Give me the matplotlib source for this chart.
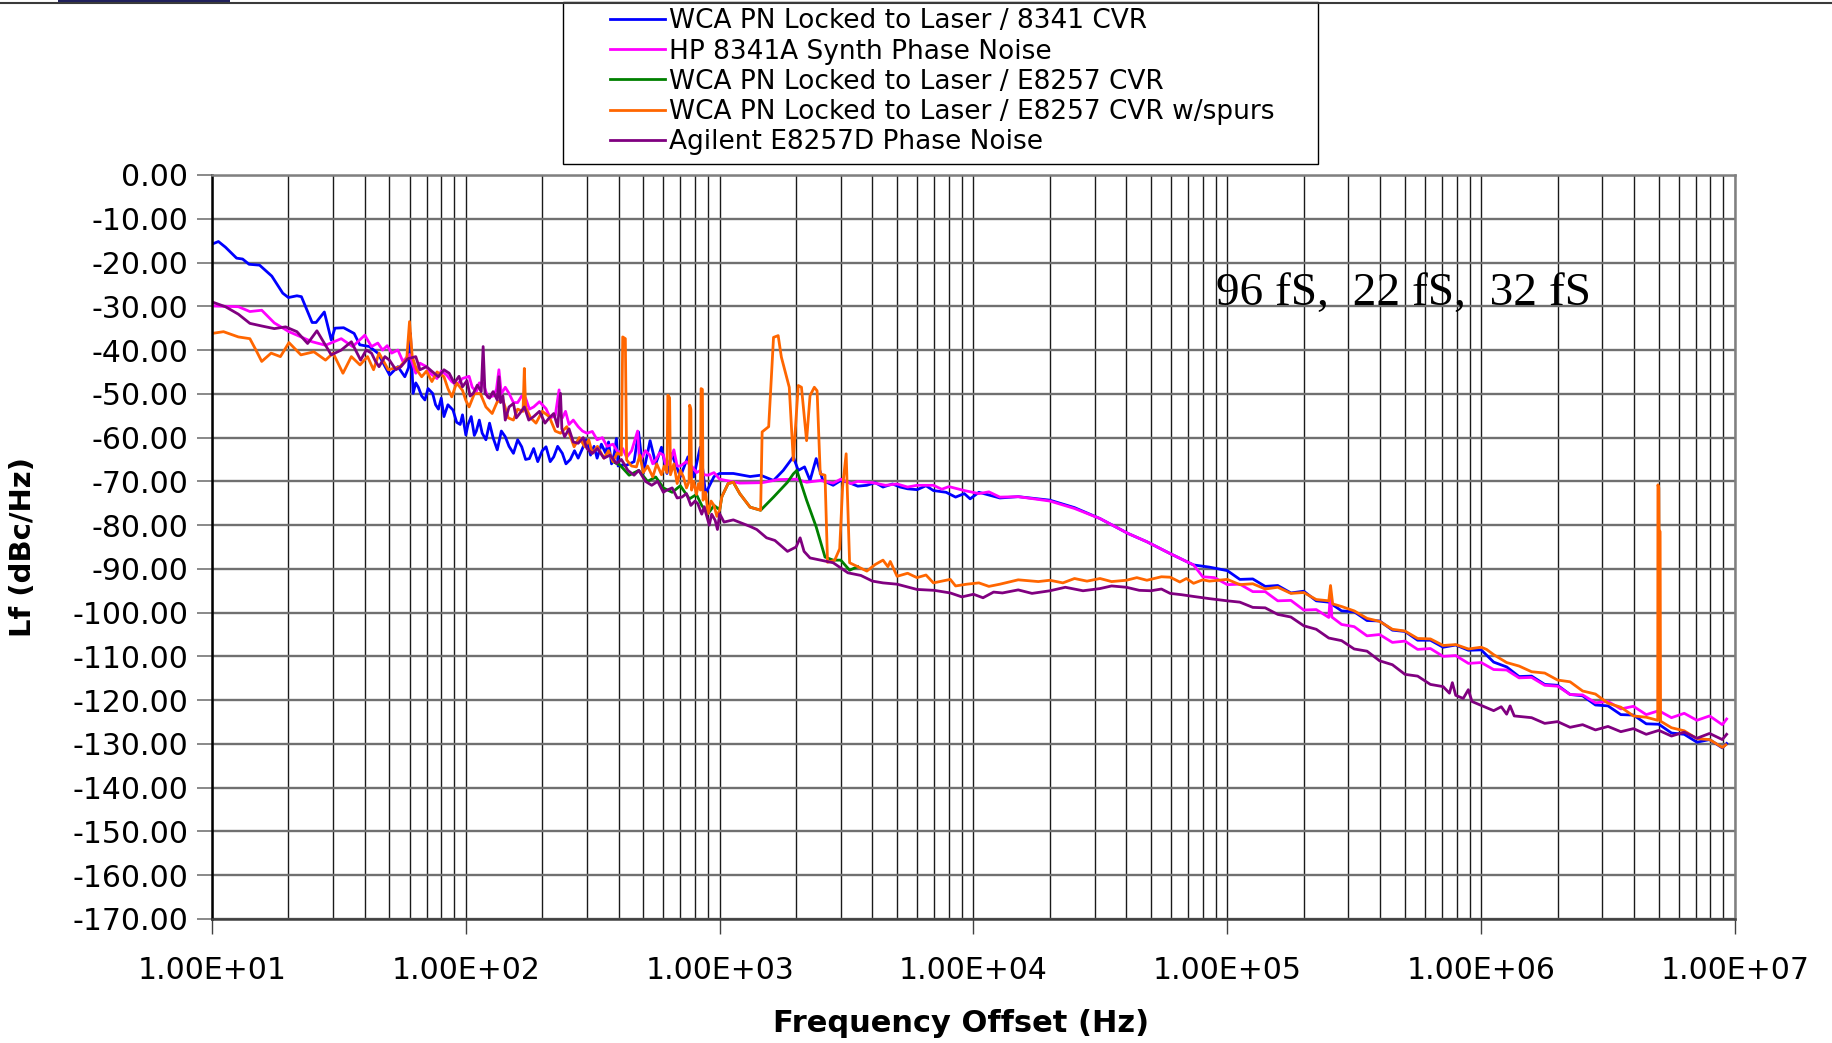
import numpy as np
import matplotlib
matplotlib.use("Agg")
import matplotlib.pyplot as plt
from matplotlib.ticker import FixedLocator, FuncFormatter, LogLocator, NullFormatter
from matplotlib.patches import Rectangle
from matplotlib.lines import Line2D

# ---- data (offset Hz, dBc/Hz) ----
wca_8341 = [
    (10, -15.8), (10.6, -15.2), (11.3, -16.5), (12.5, -19.0), (13.2, -19.2), (14.0, -20.4),
    (15.4, -20.6), (17.2, -23.1), (19.0, -27.0), (20.0, -28.0), (21.6, -27.6), (22.5, -27.8),
    (24.8, -33.7), (25.7, -33.7), (27.7, -31.3), (29.5, -37.7), (30.5, -35.0), (33, -34.9),
    (36.3, -36.2), (38.2, -38.8), (41.7, -39.2), (45, -40.7), (50.1, -45.7), (54, -43.8),
    (57.5, -46.1), (59.5, -44.0), (60.5, -36.2), (62, -49.9), (63.5, -47.5), (65, -48.5),
    (67, -50.5), (69, -51.4), (71, -48.8), (74, -49.9), (76, -52.5), (78, -53.5), (80, -51.0),
    (82, -55.2), (85, -52.5), (89, -53.7), (92, -56.5), (95, -57.0), (97, -54.8), (100, -59.4),
    (102, -57.0), (105, -55.2), (108, -59.5), (110, -58.5), (113, -56.0), (116, -59.0),
    (120, -60.5), (124, -56.7), (128, -60.0), (133, -62.8), (138, -58.5), (143, -59.8),
    (148, -62.0), (154, -63.6), (160, -60.5), (166, -62.1), (172, -65.0), (178, -64.8),
    (185, -62.5), (192, -65.5), (200, -63.0), (207, -62.1), (215, -65.5), (222, -64.4),
    (230, -62.0), (240, -63.6), (248, -66.0), (258, -65.0), (268, -63.0), (277, -64.7),
    (288, -62.5), (298, -60.5), (310, -64.0), (320, -62.0), (329, -64.7), (342, -61.5),
    (355, -63.5), (365, -61.0), (375, -66.0), (385, -63.5), (392, -60.2), (398, -66.5),
    (405, -66.3), (430, -66.3), (460, -65.5), (479, -58.7), (500, -68.2), (532, -60.7),
    (560, -66.0), (590, -62.2), (620, -68.2), (647, -63.7), (700, -68.9), (750, -64.4),
    (790, -69.0), (838, -62.2), (880, -72.8), (950, -68.9), (1000, -68.2), (1132, -68.2),
    (1318, -68.9), (1450, -68.6), (1630, -69.8), (1780, -67.5), (1950, -64.4), (2040, -67.5),
    (2160, -66.7), (2270, -69.8), (2400, -64.8), (2550, -69.8), (2800, -70.9), (3000, -69.8),
    (3200, -70.2), (3500, -71.1), (3800, -70.9), (4100, -70.3), (4400, -71.3), (4800, -70.6),
    (5140, -71.3), (5500, -71.7), (6000, -71.9), (6500, -71.0), (6950, -72.1), (7800, -72.5),
    (8500, -73.6), (9200, -72.8), (9700, -74.0), (10500, -72.5), (12700, -73.8),
    (15000, -73.5), (20000, -74.3), (25000, -76.0), (31500, -78.5), (40600, -81.9),
    (48200, -83.8), (59500, -86.5), (73600, -89.1), (85000, -89.6), (100000, -90.4),
    (112000, -92.4), (126000, -92.3), (141000, -94.0), (158000, -93.8), (178000, -95.5),
    (200000, -95.1), (224000, -97.3), (251000, -97.6), (282000, -99.6), (316000, -99.8),
    (355000, -101.8), (398000, -101.9), (447000, -104.0), (501000, -104.3), (562000, -106.3),
    (631000, -106.3), (708000, -107.9), (794000, -107.4), (891000, -108.6), (1000000, -108.5),
    (1120000, -111.3), (1260000, -112.4), (1410000, -114.6), (1580000, -114.5),
    (1780000, -116.4), (2000000, -116.6), (2240000, -118.7), (2510000, -119.0),
    (2820000, -121.1), (3160000, -121.3), (3550000, -123.3), (3980000, -123.4),
    (4470000, -125.4), (5010000, -125.5), (5620000, -127.5), (6310000, -127.8),
    (7080000, -129.6), (7940000, -129.0), (8910000, -130.9), (9270000, -129.9),
]

hp8341 = [
    (10, -29.9), (12.7, -30.1), (14.1, -31.2), (15.7, -30.9), (17.6, -33.8), (20.1, -35.8),
    (22.4, -37.0), (24.8, -38.1), (28, -38.9), (32.3, -37.4), (35.8, -39.2), (40, -36.6),
    (42.5, -39.2), (45, -38.4), (47, -40.0), (49, -39.0), (51, -40.7), (54, -40.0),
    (56.5, -42.6), (60, -41.0), (63.5, -45.3), (66, -43.0), (70, -43.8), (73, -45.5),
    (77, -46.5), (80, -44.8), (84, -45.7), (88, -47.2), (92, -48.0), (97, -46.5), (103, -46.0),
    (106, -48.5), (110, -49.5), (113, -47.5), (117, -47.6), (122, -50.8), (128, -50.5),
    (132, -49.0), (135, -44.5), (138, -50.0), (143, -48.5), (148, -49.9), (154, -52.0),
    (160, -52.0), (166, -50.5), (172, -51.0), (178, -53.5), (185, -53.0), (195, -51.8),
    (207, -53.4), (215, -55.5), (225, -55.0), (233, -49.1), (236, -55.0), (240, -55.5),
    (247, -54.0), (255, -57.0), (265, -56.0), (277, -57.5), (288, -58.5), (300, -59.0),
    (315, -58.6), (329, -60.5), (345, -60.0), (360, -62.0), (380, -61.5), (400, -63.6),
    (415, -62.5), (430, -64.5), (450, -63.0), (475, -58.5), (482, -64.5), (490, -65.0),
    (510, -63.0), (530, -64.0), (545, -66.0), (560, -65.1), (580, -63.5), (600, -64.0),
    (615, -66.5), (630, -66.0), (645, -64.5), (660, -62.8), (680, -66.5), (700, -66.5),
    (740, -65.5), (780, -66.7), (810, -68.0), (840, -67.5), (870, -68.5), (900, -68.6),
    (950, -68.0), (1000, -69.5), (1060, -69.8), (1200, -70.4), (1470, -70.3), (1700, -69.6),
    (2000, -69.5), (2200, -70.2), (2500, -69.8), (2800, -70.4), (3000, -69.5), (3300, -70.5),
    (3500, -70.0), (4000, -70.3), (4500, -70.9), (5000, -70.6), (5500, -71.3), (6000, -70.9),
    (6950, -70.9), (7500, -71.8), (8000, -71.2), (9200, -72.1), (10500, -72.8),
    (11500, -72.4), (12700, -73.6), (15000, -73.5), (20000, -74.5), (25000, -76.2),
    (31500, -78.5), (40600, -81.9), (48200, -83.8), (59500, -86.5), (73600, -89.1),
    (80000, -91.8), (89000, -92.0), (100000, -93.6), (112000, -93.5), (126000, -95.2),
    (141000, -95.2), (158000, -97.3), (178000, -97.2), (200000, -99.4), (224000, -99.3),
    (251000, -101.1), (255000, -95.2), (258000, -101.0), (282000, -102.7), (316000, -103.2),
    (355000, -105.3), (398000, -105.0), (447000, -106.8), (501000, -106.5), (562000, -108.4),
    (631000, -108.2), (708000, -110.0), (794000, -109.8), (891000, -111.6), (1000000, -111.4),
    (1120000, -113.0), (1260000, -113.1), (1410000, -114.9), (1580000, -114.8),
    (1780000, -116.6), (2000000, -116.8), (2240000, -118.7), (2510000, -118.8),
    (2820000, -120.6), (3160000, -120.3), (3550000, -122.0), (3980000, -121.4),
    (4470000, -123.3), (5010000, -122.4), (5620000, -124.0), (6310000, -123.0),
    (7080000, -124.6), (7940000, -123.6), (8910000, -125.6), (9270000, -124.3),
]

wca_e8257 = [
    (380, -65.5), (405, -66.3), (440, -68.6), (480, -67.5), (520, -70.0), (560, -69.0),
    (600, -71.5), (650, -72.5), (700, -71.0), (760, -74.0), (810, -73.0), (850, -75.5),
    (900, -77.4), (950, -75.5), (1000, -76.5), (1020, -73.5), (1080, -70.5), (1132, -70.2),
    (1200, -72.8), (1318, -75.9), (1450, -76.6), (1630, -73.6), (1850, -70.2), (1950, -68.3),
    (2014, -67.5), (2200, -74.3), (2400, -80.4), (2600, -87.3), (2800, -88.0), (3000, -88.0),
    (3250, -90.3), (3500, -89.5),
]

wca_e8257_spurs = [
    (10, -36.2), (11.1, -35.8), (12.7, -37.0), (14.1, -37.4), (14.9, -40.0), (15.7, -42.6),
    (17.1, -40.7), (18.6, -41.5), (20.1, -38.3), (22.4, -41.1), (25.2, -40.4), (28, -42.3),
    (30, -40.7), (32.8, -45.3), (35.4, -41.5), (38.3, -43.4), (41, -41.5), (43.3, -44.5),
    (45.5, -40.7), (49.5, -44.5), (55, -43.8), (58.5, -42.0), (60, -33.5), (61.5, -41.5),
    (64, -44.5), (67, -46.1), (70, -44.8), (73.5, -47.2), (77, -45.0), (82, -46.1),
    (85, -48.8), (88, -50.7), (92, -47.5), (97, -49.2), (100, -51.5), (103, -53.0),
    (108, -50.0), (114, -49.9), (120, -53.0), (127, -54.5), (133, -51.8), (140, -51.4),
    (147, -55.5), (154, -56.0), (160, -53.5), (168, -54.0), (170, -44.2), (172, -53.0),
    (180, -55.5), (189, -56.7), (200, -54.0), (213, -55.2), (225, -58.5), (236, -59.0),
    (250, -57.5), (267, -62.1), (280, -60.0), (294, -62.1), (305, -60.5), (315, -63.6),
    (330, -62.0), (350, -64.7), (365, -63.0), (380, -65.5), (395, -63.5), (410, -64.0),
    (415, -37.0), (425, -37.4), (430, -65.1), (450, -66.5), (470, -66.7), (485, -64.0),
    (500, -68.0), (520, -66.5), (545, -69.0), (565, -66.0), (590, -68.5), (605, -66.5),
    (620, -68.0), (625, -50.3), (635, -50.9), (640, -68.5), (660, -66.0), (680, -70.5),
    (700, -67.5), (720, -69.0), (740, -71.5), (758, -70.0), (762, -52.6), (770, -53.5),
    (775, -72.0), (790, -70.0), (810, -73.0), (825, -70.5), (840, -72.0), (845, -48.8),
    (855, -49.0), (860, -74.3), (880, -72.5), (900, -77.4), (925, -74.5), (950, -75.5),
    (975, -78.0), (1000, -76.5), (1020, -73.5), (1080, -70.5), (1132, -70.2), (1200, -72.8),
    (1318, -75.9), (1450, -76.6), (1470, -58.7), (1560, -57.5), (1630, -37.1), (1700, -36.7),
    (1750, -41.6), (1880, -48.5), (1950, -65.2), (2040, -48.1), (2100, -48.5), (2200, -60.7),
    (2270, -50.4), (2360, -48.5), (2420, -49.3), (2490, -68.3), (2600, -68.6), (2660, -88.5),
    (2840, -88.0), (2970, -85.4), (3050, -71.3), (3150, -63.7), (3250, -88.6), (3500, -89.5),
    (3800, -90.5), (4100, -89.0), (4400, -88.0), (4600, -89.5), (4700, -88.3), (5000, -91.7),
    (5500, -91.0), (5990, -92.0), (6500, -91.4), (6950, -93.2), (8100, -92.4), (8500, -93.9),
    (9400, -93.5), (10500, -93.2), (11500, -94.0), (12700, -93.5), (15000, -92.5),
    (18000, -92.9), (20000, -92.6), (22500, -93.2), (25000, -92.2), (28000, -92.8),
    (31500, -92.2), (35000, -92.9), (40000, -92.6), (44000, -92.0), (48200, -92.6),
    (55000, -91.8), (59500, -91.9), (65000, -93.0), (69000, -92.2), (73600, -93.3),
    (80000, -92.5), (85000, -92.8), (100000, -92.4), (112000, -93.6), (126000, -93.4),
    (141000, -94.6), (158000, -94.2), (178000, -95.6), (200000, -95.4), (224000, -97.0),
    (251000, -97.3), (255000, -93.8), (260000, -98.0), (282000, -98.6), (316000, -99.6),
    (355000, -101.3), (398000, -102.0), (447000, -103.8), (501000, -104.2), (562000, -105.9),
    (631000, -106.0), (708000, -107.5), (794000, -107.3), (891000, -108.3), (1000000, -107.9),
    (1050000, -108.4), (1120000, -109.6), (1260000, -111.4), (1410000, -112.2),
    (1580000, -113.5), (1780000, -113.8), (2000000, -115.4), (2240000, -115.8),
    (2510000, -117.9), (2820000, -118.6), (3160000, -120.7), (3550000, -121.6),
    (3980000, -123.6), (4470000, -123.9), (4960000, -124.6), (4970000, -70.8),
    (5010000, -71.5), (5020000, -81.0), (5070000, -81.5), (5090000, -124.8),
    (5620000, -126.3), (6310000, -127.0), (7080000, -128.8), (7940000, -129.0),
    (8910000, -130.8), (9200000, -130.2),
]

agilent_e8257 = [
    (10, -29.0), (11.3, -30.1), (12.7, -31.8), (14.1, -33.9), (15.7, -34.5), (17.6, -35.1),
    (19.5, -34.7), (21.6, -35.8), (23.8, -38.5), (25.9, -35.6), (28, -38.9), (29.5, -41.1),
    (32.3, -40.0), (35.4, -38.1), (38.5, -42.3), (40.5, -40.0), (42.5, -40.7), (44, -42.5),
    (45.5, -43.8), (48, -41.5), (50, -42.3), (53, -44.5), (55.5, -43.8), (59, -42.0),
    (63.5, -41.5), (66, -44.5), (70, -43.8), (74, -45.0), (78, -46.1), (82, -44.5),
    (86, -45.3), (90, -47.5), (94, -46.0), (97, -48.4), (101, -47.0), (104, -50.5),
    (107, -49.9), (111, -48.0), (115, -49.5), (117, -39.2), (119, -49.9), (124, -51.0),
    (128, -49.5), (133, -51.4), (135, -46.1), (137, -52.0), (140, -50.5), (143, -56.0),
    (148, -53.0), (154, -52.2), (158, -55.5), (163, -54.5), (170, -53.0), (177, -56.0),
    (185, -55.2), (195, -54.0), (205, -56.7), (213, -55.5), (222, -54.5), (230, -57.5),
    (236, -49.9), (239, -58.0), (245, -59.8), (255, -58.0), (265, -61.0), (277, -61.3),
    (290, -60.0), (300, -62.5), (315, -63.6), (330, -62.5), (350, -64.7), (370, -64.0),
    (392, -65.9), (410, -65.0), (435, -67.5), (460, -68.6), (480, -67.5), (510, -70.0),
    (540, -70.9), (570, -70.0), (600, -72.5), (615, -72.1), (650, -71.5), (680, -73.8),
    (710, -73.6), (740, -72.8), (770, -75.5), (800, -74.5), (820, -75.1), (850, -77.5),
    (870, -75.8), (880, -77.0), (910, -80.0), (930, -77.5), (960, -78.9), (980, -81.0),
    (1000, -77.4), (1040, -79.3), (1132, -78.8), (1318, -80.3), (1400, -81.0),
    (1530, -82.9), (1650, -83.5), (1850, -86.0), (2000, -85.0), (2075, -82.9), (2150, -86.0),
    (2270, -87.5), (2500, -88.0), (2800, -88.6), (3000, -89.8), (3200, -90.9), (3600, -91.5),
    (4000, -92.8), (4400, -93.2), (5000, -93.5), (5990, -94.7), (7000, -94.9), (8100, -95.5),
    (9000, -96.4), (10000, -95.8), (10900, -96.6), (12000, -95.3), (13000, -95.5),
    (15000, -94.8), (17000, -95.6), (20000, -95.0), (23000, -94.2), (27000, -95.0),
    (31500, -94.5), (35000, -93.9), (40000, -94.2), (45000, -94.9), (50000, -95.0),
    (55000, -94.6), (59500, -95.6), (66000, -95.9), (73600, -96.3), (85000, -96.8),
    (100000, -97.3), (112000, -97.6), (126000, -98.8), (141000, -98.9), (158000, -100.4),
    (178000, -101.0), (200000, -103.0), (224000, -103.8), (251000, -105.8), (282000, -106.4),
    (316000, -108.3), (355000, -108.8), (398000, -111.0), (447000, -111.9), (501000, -114.1),
    (562000, -114.5), (631000, -116.4), (708000, -116.9), (750000, -118.4), (770000, -116.0),
    (794000, -118.9), (850000, -119.6), (890000, -117.6), (920000, -120.3),
    (1000000, -121.2), (1120000, -122.4), (1200000, -121.5), (1260000, -123.2),
    (1300000, -121.3), (1350000, -123.6), (1580000, -124.0), (1780000, -125.3),
    (2000000, -124.9), (2240000, -126.2), (2510000, -125.6), (2820000, -126.8),
    (3160000, -126.0), (3550000, -127.2), (3980000, -126.5), (4470000, -127.8),
    (5010000, -126.9), (5620000, -128.2), (6310000, -127.3), (7080000, -128.7),
    (7940000, -127.6), (8910000, -129.0), (9270000, -127.8),
]

series_labels = [
    "WCA PN Locked to Laser / 8341 CVR",
    "HP 8341A Synth Phase Noise",
    "WCA PN Locked to Laser / E8257 CVR",
    "WCA PN Locked to Laser / E8257 CVR w/spurs",
    "Agilent E8257D Phase Noise",
]
series_colors = ["#0000FF", "#FF00FF", "#008000", "#FF6600", "#800080"]
jitter_note = "96 fS,  22 fS,  32 fS"

W, H = 1833, 1043
fig = plt.figure(figsize=(W / 100, H / 100), dpi=100)
ax = fig.add_axes([212 / W, 1 - 919 / H, (1735 - 212) / W, (919 - 175) / H])

lines = []
for data, lab, col in zip([wca_8341, hp8341, wca_e8257, wca_e8257_spurs, agilent_e8257],
                          series_labels, series_colors):
    f, db = zip(*data)
    ln, = ax.plot(f, db, color=col, lw=2.0, label=lab)
    lines.append(ln)

ax.set_xscale("log")
ax.set_xlim(10, 1e7)
ax.set_ylim(-170, 0)

ax.yaxis.set_major_locator(FixedLocator(np.arange(-170, 1, 10)))
ax.yaxis.set_major_formatter(FuncFormatter(lambda v, p: "%.2f" % v))
ax.xaxis.set_major_locator(FixedLocator([1e1, 1e2, 1e3, 1e4, 1e5, 1e6, 1e7]))
ax.xaxis.set_major_formatter(FuncFormatter(lambda v, p: "%.2E" % v))
ax.xaxis.set_minor_locator(LogLocator(base=10, subs=np.arange(2, 10), numticks=50))
ax.xaxis.set_minor_formatter(NullFormatter())

ax.grid(which="major", axis="y", color="#707070", lw=1.7)
ax.grid(which="both", axis="x", color="#1a1a1a", lw=1.0)
ax.set_axisbelow(True)

ax.tick_params(axis="y", direction="out", length=11, width=1.3, color="#808080",
               labelsize=21.5, pad=6)
ax.tick_params(axis="x", which="major", direction="out", length=11, width=1.0,
               color="#404040", labelsize=21.5, pad=15.5)
ax.tick_params(axis="x", which="minor", length=0)

for side in ["top", "right"]:
    ax.spines[side].set_color("#808080")
    ax.spines[side].set_linewidth(1.8)
ax.spines["left"].set_color("black")
ax.spines["left"].set_linewidth(1.8)
ax.spines["bottom"].set_color("#404040")
ax.spines["bottom"].set_linewidth(1.8)

ax.set_ylabel("Lf (dBc/Hz)", fontsize=21, fontweight="bold", va="center")
ax.yaxis.label.set_rotation_mode("default")
ax.yaxis.set_label_coords((23 - 212) / 1523, 0.5)
ax.set_xlabel("Frequency Offset (Hz)", fontsize=22, fontweight="bold", va="center")
ax.xaxis.set_label_coords((961 - 212) / 1523, -(1023 - 919) / 744)

# legend (frame drawn separately to match the boxed area)
fig.legend(lines, series_labels, loc="upper left", bbox_to_anchor=(610 / W, 1 - 8.5 / H),
           frameon=False, fontsize=19, handlelength=2.1, handletextpad=0.15,
           labelspacing=0.155, borderpad=0, borderaxespad=0)
fig.add_artist(Rectangle((563 / W, 1 - 164 / H), 755 / W, 162 / H, transform=fig.transFigure,
                         fill=False, edgecolor="black", lw=1.0))

# slide top border
fig.add_artist(Line2D([0, 1], [1 - 2.5 / H] * 2, transform=fig.transFigure,
                      color="#3a3a3a", lw=1.5))
fig.add_artist(Rectangle((58 / W, 1 - 3 / H), 172 / W, 3 / H, transform=fig.transFigure,
                         color="#1f1f5c", lw=0))

fig.text(1216 / W, 1 - 305 / H, jitter_note, fontsize=34, family="Liberation Serif",
         ha="left", va="baseline")

fig.savefig("out.png", dpi=100, facecolor="white")
